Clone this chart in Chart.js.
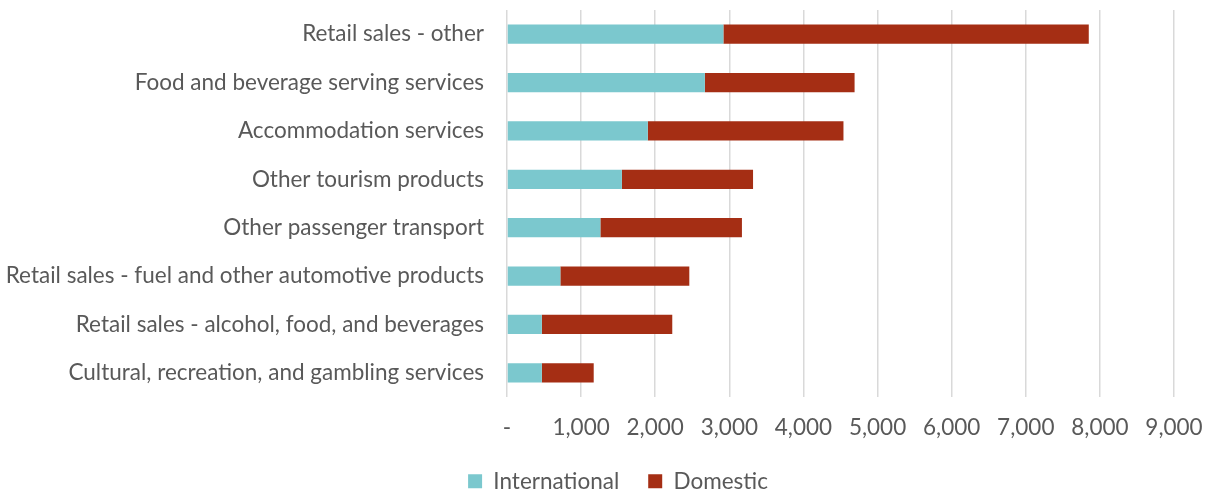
<!DOCTYPE html>
<html>
<head>
<meta charset="utf-8">
<title>Tourism products by visitor type</title>
<script src="https://cdn.jsdelivr.net/npm/chart.js@4"></script>
<style>
  html, body { margin: 0; padding: 0; background: #ffffff; }
  #chart-box { width: 1208px; height: 496px; }
</style>
</head>
<body>
<div id="chart-box">
  <canvas id="grafico-produtos" width="1208" height="496"></canvas>
</div>
<script>
// Categorias (de cima para baixo)
const categorias = [
  "Retail sales - other",
  "Food and beverage serving services",
  "Accommodation services",
  "Other tourism products",
  "Other passenger transport",
  "Retail sales - fuel and other automotive products",
  "Retail sales - alcohol, food, and beverages",
  "Cultural, recreation, and gambling services",
];

// Valores por série
const internacional = [2920, 2670, 1900, 1550, 1260, 720, 470, 470];
const domestico = [4930, 2020, 2640, 1770, 1910, 1740, 1760, 700];

// Marcas do eixo X
const marcasX = [0, 1000, 2000, 3000, 4000, 5000, 6000, 7000, 8000, 9000];

const corTexto = "#595959";
const fonte = { family: "Lato, 'Liberation Sans', sans-serif", size: 22.5 };

// Empurra a legenda um pouco para a direita (fica centrada sob as barras)
const deslocarLegenda = {
  id: "deslocarLegenda",
  afterLayout(chart) {
    chart.legend.left += 31;
    chart.legend.right += 31;
  },
};

function gerarGraficoProdutos() {
  const ctx = document.getElementById("grafico-produtos").getContext("2d");
  new Chart(ctx, {
    type: "bar",
    data: {
      labels: categorias,
      datasets: [
        {
          label: "International",
          data: internacional,
          backgroundColor: "#7BC8CE",
          barPercentage: 0.4,
          categoryPercentage: 1,
        },
        {
          label: "Domestic",
          data: domestico,
          backgroundColor: "#A52E14",
          barPercentage: 0.4,
          categoryPercentage: 1,
        },
      ],
    },
    plugins: [deslocarLegenda],
    options: {
      indexAxis: "y",
      responsive: false,
      animation: false,
      layout: { padding: { top: 10, right: 34, left: 0, bottom: 0 } },
      plugins: {
        legend: {
          position: "bottom",
          maxHeight: 55,
          labels: {
            color: corTexto,
            font: fonte,
            boxWidth: 14,
            boxHeight: 14,
            padding: 29,
          },
        },
        tooltip: { enabled: false },
      },
      scales: {
        x: {
          stacked: true,
          min: 0,
          max: 9000,
          afterBuildTicks: (scale) => {
            scale.ticks = marcasX.map((v) => ({ value: v }));
          },
          afterFit: (scale) => {
            // altura fixa e sem folga lateral extra
            scale.height = 44;
            scale.paddingLeft = 0;
            scale.paddingRight = 0;
          },
          grid: { color: "#d9d9d9", lineWidth: 1.5, drawTicks: false },
          border: { display: false },
          ticks: {
            color: corTexto,
            font: fonte,
            padding: 17,
            callback: (v) => (v === 0 ? "-" : v.toLocaleString("en-US")),
          },
        },
        y: {
          stacked: true,
          afterFit: (scale) => {
            scale.width = 507;
            scale.paddingTop = 0;
            scale.paddingBottom = 0;
          },
          grid: { display: false },
          border: { display: false },
          ticks: { color: corTexto, font: fonte, padding: 15 },
        },
      },
    },
  });
}

gerarGraficoProdutos();
</script>
</body>
</html>
